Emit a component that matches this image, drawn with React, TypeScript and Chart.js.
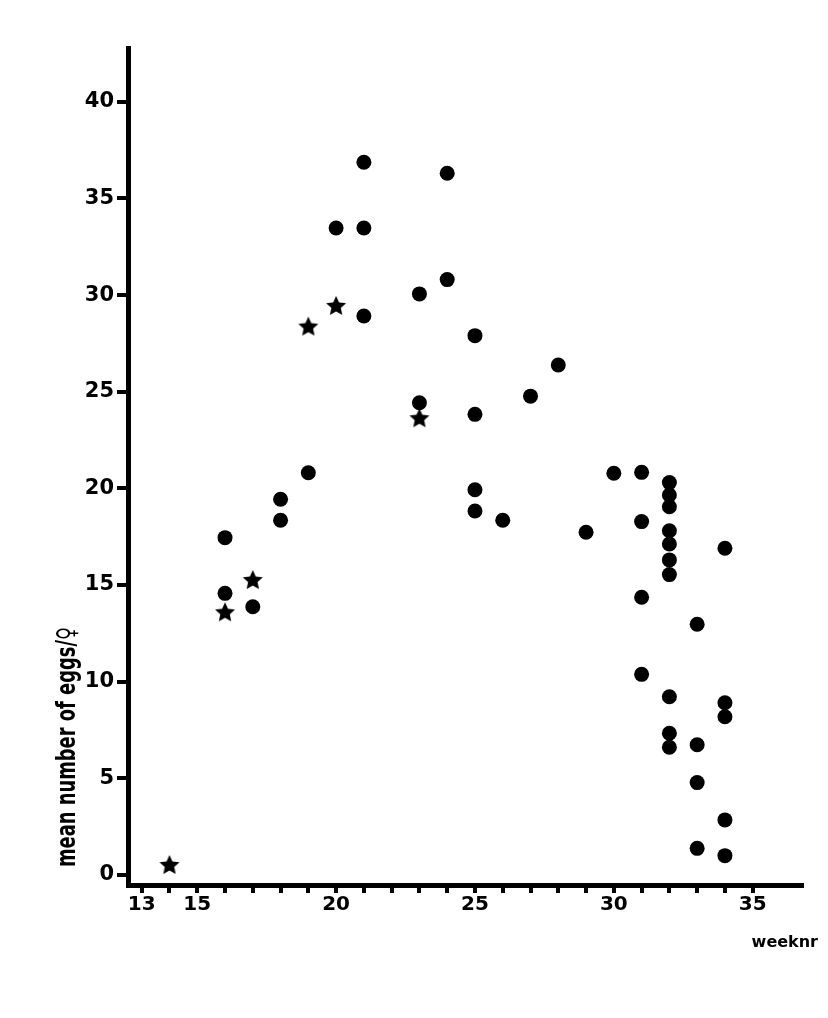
import React, { useEffect, useRef } from 'react';
import { Chart, registerables } from 'chart.js';

Chart.register(...registerables);

// Circles (•)
const circleWeeks = [
  16, 16, 17, 18, 18, 19, 20, 21, 21, 21, 23, 23, 24, 24, 25, 25, 25, 25, 26, 27, 28, 29, 30,
  31, 31, 31, 31,
  32, 32, 32, 32, 32, 32, 32, 32, 32, 32,
  33, 33, 33, 33,
  34, 34, 34, 34, 34,
];
const circleValues = [
  17.45, 14.57, 13.88, 19.44, 18.35, 20.81, 33.47, 36.87, 33.47, 28.92, 30.06, 24.43, 36.3, 30.8,
  27.9, 23.83, 19.93, 18.83, 18.35, 24.77, 26.38, 17.73, 20.78,
  20.83, 18.28, 14.37, 10.38,
  20.3, 19.66, 19.05, 17.81, 17.12, 16.3, 15.54, 9.22, 7.33, 6.61,
  12.97, 6.74, 4.78, 1.38,
  16.9, 8.91, 8.19, 2.85, 1.0,
];

// Stars (★)
const starWeeks = [14, 16, 17, 19, 20, 23];
const starValues = [0.52, 13.59, 15.26, 28.37, 29.44, 23.63];

// Axis ticks
const xLabelledTicks = [13, 15, 20, 25, 30, 35];
const xFirstTick = 13;
const xLastTick = 35;
const yTickLabels = [0, 5, 10, 15, 20, 25, 30, 35, 40];

const xTitle = 'weeknr';
const yTitle = 'mean number of eggs/♀';

function makeStar(): HTMLCanvasElement {
  const c = document.createElement('canvas');
  c.width = 24;
  c.height = 24;
  const ctx = c.getContext('2d')!;
  ctx.fillStyle = '#000';
  ctx.beginPath();
  for (let i = 0; i < 10; i++) {
    const r = i % 2 === 0 ? 10.5 : 5;
    const a = -Math.PI / 2 + (i * Math.PI) / 5;
    const x = 12 + r * Math.cos(a);
    const y = 12.5 + r * Math.sin(a);
    if (i === 0) ctx.moveTo(x, y);
    else ctx.lineTo(x, y);
  }
  ctx.closePath();
  ctx.fill();
  return c;
}

const textPlugin = {
  id: 'titlesText',
  afterDraw(chart: any) {
    const ctx = chart.ctx as CanvasRenderingContext2D;
    const { left, bottom, right } = chart.chartArea;
    ctx.save();
    ctx.fillStyle = '#000';
    ctx.font = 'bold 16px "DejaVu Sans"';
    ctx.textAlign = 'right';
    ctx.textBaseline = 'alphabetic';
    ctx.fillText(xTitle, right + 16, bottom + 62);

    ctx.font = 'bold 26px "DejaVu Sans"';
    ctx.textAlign = 'left';
    const w = ctx.measureText(yTitle).width;
    const s = 240 / w;
    ctx.translate(left - 53, bottom - 18);
    ctx.rotate(-Math.PI / 2);
    ctx.scale(s, 1);
    ctx.fillText(yTitle, 0, 0);
    ctx.restore();
  },
};

export default function App() {
  const ref = useRef<HTMLCanvasElement | null>(null);

  useEffect(() => {
    if (!ref.current) return;
    const star = makeStar();
    const chart = new Chart(ref.current, {
      type: 'scatter',
      data: {
        datasets: [
          {
            label: 'circles',
            data: circleWeeks.map((w, i) => ({ x: w, y: circleValues[i] })),
            pointStyle: 'circle',
            pointRadius: 7.5,
            pointBackgroundColor: '#000',
            pointBorderWidth: 0,
            borderColor: '#000',
          },
          {
            label: 'stars',
            data: starWeeks.map((w, i) => ({ x: w, y: starValues[i] })),
            pointStyle: star as any,
            pointRadius: 10,
            pointBackgroundColor: '#000',
            pointBorderWidth: 0,
            borderColor: '#000',
          },
        ],
      },
      options: {
        animation: false,
        responsive: false,
        maintainAspectRatio: false,
        devicePixelRatio: 1,
        layout: { padding: { top: 48, right: 26, left: 0, bottom: 0 } },
        plugins: { legend: { display: false }, tooltip: { enabled: false } },
        scales: {
          x: {
            type: 'linear',
            min: 12.507,
            max: 36.775,
            afterFit(scale: any) {
              scale.height = 133;
            },
            afterBuildTicks(scale: any) {
              scale.ticks = scale.ticks.filter(
                (t: any) => t.value >= xFirstTick && t.value <= xLastTick
              );
            },
            border: { display: true, color: '#000', width: 5 },
            grid: {
              drawOnChartArea: false,
              drawTicks: true,
              tickLength: 8,
              color: '#000',
              lineWidth: 4,
            },
            ticks: {
              stepSize: 1,
              includeBounds: false,
              autoSkip: false,
              maxRotation: 0,
              minRotation: 0,
              padding: 0,
              color: '#000',
              font: { family: '"DejaVu Sans"', size: 20, weight: 'bold' },
              callback: (v: any) => (xLabelledTicks.includes(Number(v)) ? String(v) : ''),
            },
          },
          y: {
            type: 'linear',
            min: -0.517,
            max: 42.78,
            afterFit(scale: any) {
              scale.width = 128;
            },
            afterBuildTicks(scale: any) {
              scale.ticks = yTickLabels.map((v) => ({ value: v }));
            },
            border: { display: true, color: '#000', width: 5 },
            grid: {
              drawOnChartArea: false,
              drawTicks: true,
              tickLength: 11,
              color: '#000',
              lineWidth: 4,
            },
            ticks: {
              stepSize: 5,
              includeBounds: false,
              padding: 3,
              color: '#000',
              font: { family: '"DejaVu Sans"', size: 21, weight: 'bold' },
              callback: (v: any) => String(v),
            },
          },
        },
      },
      plugins: [textPlugin],
    });
    return () => chart.destroy();
  }, []);

  return (
    <div style={{ position: 'absolute', left: 0, top: 0, width: 828, height: 1018, background: '#fff' }}>
      <canvas ref={ref} width={828} height={1018} style={{ display: 'block' }} />
    </div>
  );
}
